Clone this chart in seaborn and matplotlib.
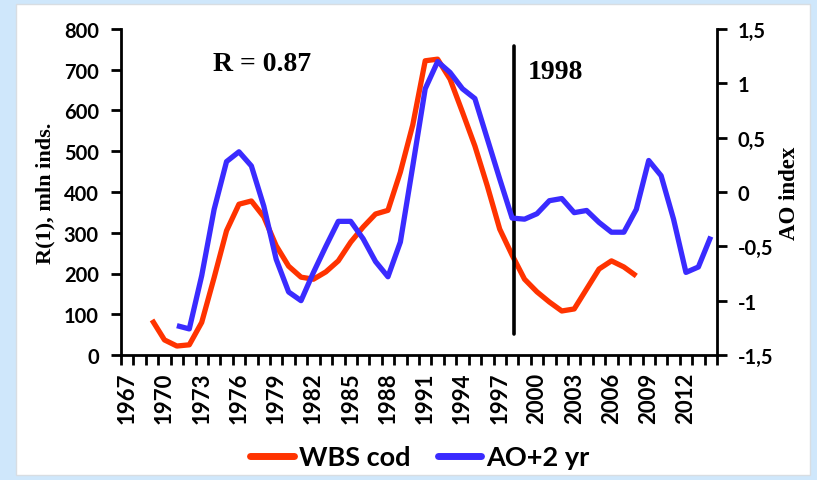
import matplotlib
matplotlib.use("Agg")
import matplotlib.pyplot as plt
from matplotlib.patches import Rectangle
from matplotlib.lines import Line2D
import seaborn as sns
import pandas as pd
import numpy as np

# ---- data ----
cod_years = list(range(1969, 2009))
cod_values = [86, 37, 22, 25, 80, 190, 305, 370, 378, 339,
              268, 218, 191, 186, 204, 231, 277, 314, 346, 355,
              449, 565, 722, 726, 677, 596, 513, 415, 309, 245,
              186, 155, 130, 108, 113, 162, 211, 231, 216, 194]
ao_years = list(range(1971, 2015))
ao_values = [-1.23, -1.26, -0.77, -0.16, 0.28, 0.37, 0.24, -0.13, -0.62, -0.92,
             -1.00, -0.74, -0.50, -0.27, -0.27, -0.43, -0.64, -0.78, -0.46, 0.24,
             0.95, 1.20, 1.10, 0.95, 0.86, 0.49, 0.12, -0.24, -0.25, -0.20,
             -0.08, -0.06, -0.19, -0.17, -0.28, -0.37, -0.37, -0.16, 0.29, 0.15,
             -0.25, -0.74, -0.69, -0.41]
xtick_years = list(range(1967, 2013, 3))
left_ticks = [0, 100, 200, 300, 400, 500, 600, 700, 800]
right_ticks = [-1.5, -1.0, -0.5, 0.0, 0.5, 1.0, 1.5]
right_labels = ["-1,5", "-1", "-0,5", "0", "0,5", "1", "1,5"]
break_year = 1998
series_names = ["WBS cod", "AO+2 yr"]

cod_df = pd.DataFrame({"year": cod_years, "value": cod_values})
ao_df = pd.DataFrame({"year": ao_years, "value": ao_values})

sns.set_theme(style="ticks")
plt.rcParams["font.family"] = ["Lato", "DejaVu Sans"]
for k in ("text.color", "axes.labelcolor", "xtick.color", "ytick.color", "axes.edgecolor"):
    plt.rcParams[k] = "black"

RED = "#ff3300"
BLUE = "#3a2bff"
BG = "#cfe7fb"

fig = plt.figure(figsize=(8.17, 4.81), dpi=100, facecolor=BG)
fig.patches.append(Rectangle((16 / 817, 1 - 476 / 481), (810 - 16) / 817, (476 - 5) / 481,
                             transform=fig.transFigure, facecolor="white",
                             edgecolor="#d8dde2", linewidth=1.0, zorder=-10))

ax = fig.add_axes([121 / 817, 1 - 356 / 481, (717 - 121) / 817, (356 - 30) / 481])
ax.set_facecolor("none")
ax2 = ax.twinx()
ax2.set_facecolor("none")

sns.lineplot(data=cod_df, x="year", y="value", ax=ax, color=RED, linewidth=3.8,
             solid_capstyle="butt", legend=False)
sns.lineplot(data=ao_df, x="year", y="value", ax=ax2, color=BLUE, linewidth=3.8,
             solid_capstyle="butt", legend=False)

ax.set_xlim(1966.5, 2014.5)
ax.set_ylim(0, 800)
ax2.set_ylim(-1.5, 1.5)

# vertical divider
ax.axvline(break_year + 0.15, ymin=0.064, ymax=0.948, color="black", linewidth=2.6)

# spines
for a in (ax, ax2):
    a.spines["top"].set_visible(False)
    for s in ("left", "right", "bottom"):
        a.spines[s].set_linewidth(2.0)
        a.spines[s].set_color("black")
ax.spines["right"].set_visible(False)
ax2.spines["left"].set_visible(False)
ax2.spines["bottom"].set_visible(False)

# x ticks: labels every 3 years, tick marks at category boundaries
ax.set_xticks(xtick_years)
ax.set_xticklabels([str(y) for y in xtick_years], rotation=90, fontsize=16,
                   fontweight="bold")
ax.tick_params(axis="x", which="major", length=0, pad=12)
ax.set_xticks(np.arange(1966.5, 2015.5, 1.0), minor=True)
ax.tick_params(axis="x", which="minor", length=7, width=2.0, color="black", direction="out")

ax.set_yticks(left_ticks)
ax.set_yticklabels([str(v) for v in left_ticks], fontsize=14.5, fontweight="bold")
ax.tick_params(axis="y", length=7, width=2.0, pad=9)

ax2.set_yticks(right_ticks)
ax2.set_yticklabels(right_labels, fontsize=14.5, fontweight="bold")
ax2.tick_params(axis="y", length=7, width=2.0, pad=8)

ax.set_xlabel("")
ax.set_ylabel("R(1), mln inds.", family="Liberation Serif", fontweight="bold",
              fontsize=16, labelpad=6)
ax2.set_ylabel("AO index", family="Liberation Serif", fontweight="bold",
               fontsize=16.5, rotation=90, labelpad=4)

# annotations
ax.text(0.236, 0.893, "R = 0.87", transform=ax.transAxes, family="Liberation Serif",
        fontweight="bold", fontsize=20, ha="center", va="center")
ax.text(0.683, 0.87, "1998", transform=ax.transAxes, family="Liberation Serif",
        fontweight="bold", fontsize=20, ha="left", va="center")

handles = [Line2D([], [], color=RED, linewidth=5), Line2D([], [], color=BLUE, linewidth=5)]
fig.legend(handles, series_names, loc="center", bbox_to_anchor=(0.514, 0.047),
           ncol=2, frameon=False, handlelength=1.6, handletextpad=0.2,
           columnspacing=1.0, prop={"family": "Lato", "weight": "bold", "size": 19.5})

fig.savefig("out.png", dpi=100, facecolor=BG)
